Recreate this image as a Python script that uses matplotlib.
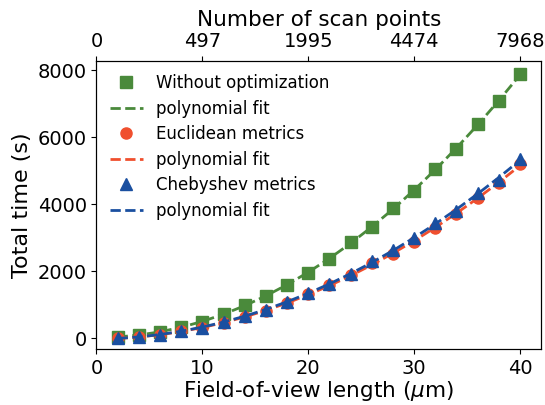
import numpy as np
import matplotlib
matplotlib.use('Agg')
import matplotlib.pyplot as plt

# field-of-view lengths (um)
fov = [2, 4, 6, 8, 10, 12, 14, 16, 18, 20, 22, 24, 26, 28, 30, 32, 34, 36, 38, 40]

# total times (s)
t_plain = [30, 90, 190, 320, 490, 715, 975, 1270, 1590, 1960,
           2370, 2860, 3310, 3880, 4400, 5045, 5650, 6390, 7090, 7880]
t_eucl = [5, 25, 85, 205, 300, 460, 620, 820, 1050, 1310,
          1590, 1880, 2240, 2520, 2880, 3280, 3700, 4180, 4640, 5200]
t_cheb = [5, 30, 90, 215, 315, 480, 650, 850, 1075, 1345,
          1620, 1910, 2290, 2640, 2990, 3430, 3810, 4340, 4740, 5350]

# top axis
top_ticks = [0, 10, 20, 30, 40]
top_labels = ['0', '497', '1995', '4474', '7968']

green = '#4a8a3b'
red = '#f04f2e'
blue = '#1a4fa0'

fig = plt.figure(figsize=(5.45, 4.05), dpi=100)
ax = fig.add_axes([0.177, 0.138, 0.816, 0.712])

x = np.array(fov, dtype=float)
for y, c, m, lab in [(t_plain, green, 's', 'Without optimization'),
                     (t_eucl, red, 'o', 'Euclidean metrics'),
                     (t_cheb, blue, '^', 'Chebyshev metrics')]:
    ax.plot(x, y, m, color=c, markersize=8, label=lab)
    # quadratic fit through the measured points
    p = np.polyfit(x, y, 2)
    ax.plot(x, np.polyval(p, x), '--', color=c, lw=2, label='polynomial fit')

ax.set_xlim(0, 42)
ax.set_ylim(-330, 8290)
ax.set_yticks([0, 2000, 4000, 6000, 8000])
ax.set_xticks([0, 10, 20, 30, 40])
ax.tick_params(labelsize=14)
ax.set_xlabel(r'Field-of-view length ($\mu$m)', fontsize=15.5, labelpad=1)
ax.set_ylabel('Total time (s)', fontsize=16)
ax.legend(loc='upper left', frameon=False, fontsize=12, labelspacing=0.45,
          borderaxespad=0.4)

ax2 = ax.twiny()
ax2.set_xlim(ax.get_xlim())
ax2.set_xticks(top_ticks)
ax2.set_xticklabels(top_labels)
ax2.tick_params(labelsize=14)
ax2.set_xlabel('Number of scan points', fontsize=15.5)

fig.savefig('out.png')
